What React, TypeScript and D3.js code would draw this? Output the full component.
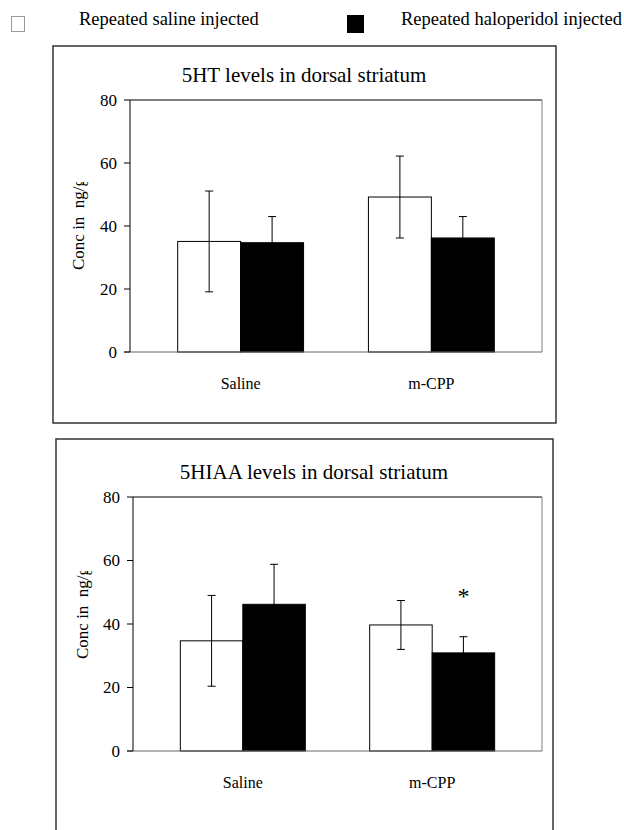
import * as d3 from "d3";
import React from "react";

// groups on the x axis and the two treatment series
const groups = ["Saline", "m-CPP"];
const seriesNames = ["Repeated saline injected", "Repeated haloperidol injected"];
const yTicks = [0, 20, 40, 60, 80];

// 5HT, dorsal striatum
const htSaline = [35.1, 49.2];
const htSalineErr = [16.0, 13.0];
const htHalo = [34.7, 36.2];
const htHaloErr = [8.3, 6.8];

// 5HIAA, dorsal striatum
const hiaaSaline = [34.7, 39.7];
const hiaaSalineErr = [14.3, 7.7];
const hiaaHalo = [46.2, 30.9];
const hiaaHaloErr = [12.6, 5.1];
const hiaaHaloMarks = ["", "*"];

const font = "'Liberation Serif', 'Times New Roman', serif";

const Chart = ({ id, box, plot, title, titleX, labelX, labelStart, salineVals, salineErr, haloVals, haloErr, marks }) => {
  const x = d3.scaleBand().domain(groups).range([plot.left, plot.right]).paddingInner(0.34).paddingOuter(0.25);
  const sub = d3.scaleBand().domain(["0", "1"]).range([0, x.bandwidth()]);
  const y = d3.scaleLinear().domain([0, 80]).range([plot.bottom, plot.top]);
  const cap = 4;

  const bars = [];
  groups.forEach((g, i) => {
    [
      { v: salineVals[i], e: salineErr[i], fill: "#fff", k: "0" },
      { v: haloVals[i], e: haloErr[i], fill: "#000", k: "1" },
    ].forEach((b) => {
      const bx = x(g) + sub(b.k);
      const cx = bx + sub.bandwidth() / 2;
      bars.push(
        <g key={g + b.k}>
          <rect x={bx} y={y(b.v)} width={sub.bandwidth()} height={y(0) - y(b.v)} fill={b.fill} stroke="#000" strokeWidth={1} />
          <line x1={cx} x2={cx} y1={y(b.v + b.e)} y2={y(b.v - b.e)} stroke="#000" />
          <line x1={cx - cap} x2={cx + cap} y1={y(b.v + b.e)} y2={y(b.v + b.e)} stroke="#000" />
          <line x1={cx - cap} x2={cx + cap} y1={y(b.v - b.e)} y2={y(b.v - b.e)} stroke="#000" />
          {b.k === "1" && marks && marks[i] ? (
            <text x={cx} y={y(b.v + b.e) - 33} textAnchor="middle" fontSize={24} fontFamily={font}>{marks[i]}</text>
          ) : null}
        </g>
      );
    });
  });

  return (
    <g>
      <rect x={box.x} y={box.y} width={box.w} height={box.h} fill="#fff" stroke="#333" strokeWidth={1.5} />
      <text x={titleX} y={plot.top - 18} textAnchor="middle" fontSize={21} fontFamily={font}>{title}</text>
      {/* plot frame */}
      <line x1={plot.left} x2={plot.right} y1={plot.top} y2={plot.top} stroke="#000" />
      <line x1={plot.right} x2={plot.right} y1={plot.top} y2={plot.bottom} stroke="#808080" />
      {bars}
      <line x1={plot.left - 6} x2={plot.right} y1={plot.bottom} y2={plot.bottom} stroke="#666" />
      <line x1={plot.left} x2={plot.left} y1={plot.top} y2={plot.bottom} stroke="#000" />
      {yTicks.map((t) => (
        <g key={t}>
          <line x1={plot.left - 6} x2={plot.left} y1={y(t)} y2={y(t)} stroke="#000" />
          <text x={plot.left - 13} y={y(t)} dy="0.35em" textAnchor="end" fontSize={17} fontFamily={font}>{t}</text>
        </g>
      ))}
      {groups.map((g) => (
        <text key={g} x={x(g) + x.bandwidth() / 2} y={plot.bottom + 37} textAnchor="middle" fontSize={16} fontFamily={font}>{g}</text>
      ))}
      {/* axis title box is too short in the original, so the last glyph is cut */}
      <clipPath id={id}>
        <rect x={box.x} y={labelStart - 88} width={60} height={200} />
      </clipPath>
      <g clipPath={`url(#${id})`}>
        <text transform={`translate(${labelX},${labelStart}) rotate(-90)`} fontSize={17} fontFamily={font} xmlSpace="preserve">{"Conc in  ng/g"}</text>
      </g>
    </g>
  );
};

export default function App() {
  return (
    <div style={{ position: "absolute", left: 0, top: 0 }}>
      <svg width={624} height={830} style={{ display: "block", background: "#fff" }}>
        {/* legend */}
        <rect x={11.5} y={16.5} width={13} height={15} fill="#fff" stroke="#999" />
        <text x={79} y={25} fontSize={18.5} fontFamily={font}>{seriesNames[0]}</text>
        <rect x={347} y={15} width={17} height={18} fill="#000" />
        <text x={401} y={25} fontSize={18.5} fontFamily={font}>{seriesNames[1]}</text>

        <Chart
          id="clipTop"
          box={{ x: 53, y: 46, w: 503, h: 377 }}
          plot={{ left: 130, right: 542, top: 100, bottom: 352 }}
          title="5HT levels in dorsal striatum"
          titleX={304}
          labelX={84}
          labelStart={270}
          salineVals={htSaline}
          salineErr={htSalineErr}
          haloVals={htHalo}
          haloErr={htHaloErr}
        />
        <Chart
          id="clipBottom"
          box={{ x: 56, y: 439, w: 497, h: 400 }}
          plot={{ left: 133, right: 542, top: 497, bottom: 751 }}
          title="5HIAA levels in dorsal striatum"
          titleX={314}
          labelX={88}
          labelStart={659}
          salineVals={hiaaSaline}
          salineErr={hiaaSalineErr}
          haloVals={hiaaHalo}
          haloErr={hiaaHaloErr}
          marks={hiaaHaloMarks}
        />
      </svg>
    </div>
  );
}
